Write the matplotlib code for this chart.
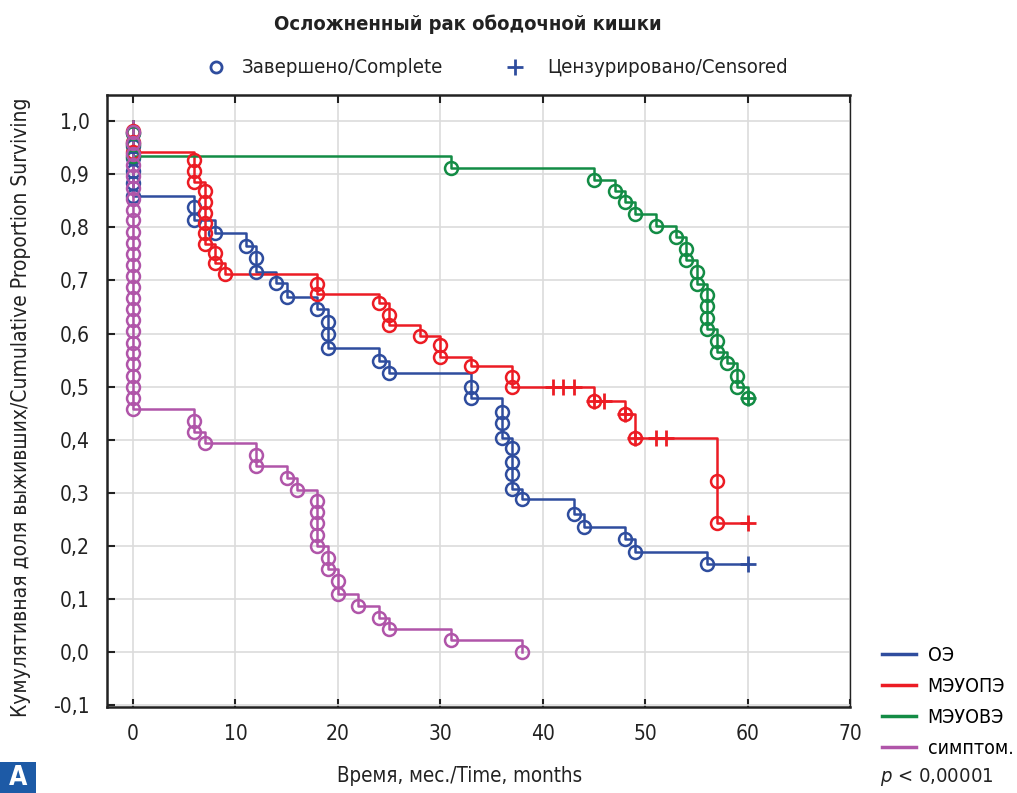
import matplotlib
matplotlib.use("Agg")
import matplotlib.pyplot as plt
from matplotlib import font_manager as fm
from matplotlib.patches import Rectangle
from matplotlib.lines import Line2D

# pick a condensed face if one is installed
narrow = [f for f in fm.fontManager.ttflist
          if 'Narrow' in f.name or 'Condensed' in f.name
          or (f.name == 'DejaVu Sans' and f.stretch == 'condensed')]
if narrow:
    plt.rcParams['font.family'] = [narrow[0].name, 'DejaVu Sans']
    plt.rcParams['font.stretch'] = 'condensed'
    k = 1.0
else:
    plt.rcParams['font.family'] = ['DejaVu Sans']
    k = 0.85

# ОЭ
oe_t = [0, 0, 0, 0, 0, 0, 6, 6, 8, 11, 12, 12, 14, 15, 18, 19, 19, 19, 24, 25,
        33, 33, 36, 36, 36, 37, 37, 37, 37, 38, 43, 44, 48, 49, 56]
oe_s = [0.977, 0.953, 0.930, 0.907, 0.884, 0.860, 0.839, 0.814, 0.790, 0.765,
        0.743, 0.716, 0.695, 0.669, 0.646, 0.621, 0.600, 0.573, 0.548, 0.525,
        0.500, 0.478, 0.453, 0.431, 0.404, 0.384, 0.358, 0.335, 0.308, 0.288,
        0.261, 0.236, 0.213, 0.188, 0.166]
oe_ct = [60]
oe_cs = [0.166]

# МЭУОПЭ
mop_t = [0, 0, 0, 6, 6, 6, 7, 7, 7, 7, 7, 7, 8, 8, 9, 18, 18, 24, 25, 25, 28,
         30, 30, 33, 37, 37, 45, 48, 49, 57, 57]
mop_s = [0.981, 0.961, 0.942, 0.927, 0.906, 0.886, 0.868, 0.847, 0.828, 0.808,
         0.789, 0.768, 0.751, 0.733, 0.712, 0.694, 0.674, 0.657, 0.635, 0.617,
         0.595, 0.578, 0.556, 0.539, 0.518, 0.500, 0.473, 0.448, 0.404, 0.323,
         0.244]
mop_ct = [41, 42, 43, 45, 46, 48, 49, 51, 52, 60]
mop_cs = [0.500, 0.500, 0.500, 0.473, 0.473, 0.448, 0.404, 0.404, 0.404, 0.244]

# МЭУОВЭ
mov_t = [0, 0, 0, 31, 45, 47, 48, 49, 51, 53, 54, 54, 55, 55, 56, 56, 56, 56,
         57, 57, 58, 59, 59, 60]
mov_s = [0.978, 0.957, 0.935, 0.912, 0.889, 0.868, 0.848, 0.825, 0.803, 0.782,
         0.760, 0.738, 0.716, 0.694, 0.672, 0.652, 0.630, 0.608, 0.586, 0.566,
         0.544, 0.520, 0.500, 0.478]
mov_ct = [60]
mov_cs = [0.478]

# симптом.
sym_t = [0] * 26 + [6, 6, 7, 12, 12, 15, 16, 18, 18, 18, 18, 18, 19, 19, 20, 20,
                    22, 24, 25, 31, 38]
sym_s = [0.979, 0.958, 0.938, 0.917, 0.896, 0.875, 0.854, 0.833, 0.813, 0.792,
         0.771, 0.750, 0.729, 0.708, 0.688, 0.667, 0.646, 0.625, 0.604, 0.583,
         0.563, 0.542, 0.521, 0.500, 0.479, 0.458,
         0.436, 0.415, 0.394, 0.371, 0.350, 0.328, 0.306, 0.285, 0.264, 0.243,
         0.221, 0.200, 0.178, 0.157, 0.134, 0.110, 0.087, 0.065, 0.044, 0.022,
         0.0]
sym_ct = []
sym_cs = []

groups = [
    ("ОЭ", oe_t, oe_s, oe_ct, oe_cs, "#2f4d9e"),
    ("МЭУОПЭ", mop_t, mop_s, mop_ct, mop_cs, "#ec1c24"),
    ("МЭУОВЭ", mov_t, mov_s, mov_ct, mov_cs, "#138c45"),
    ("симптом.", sym_t, sym_s, sym_ct, sym_cs, "#b055a9"),
]
txt = '#222222'

fig = plt.figure(figsize=(10.17, 7.93), dpi=100)
ax = fig.add_axes([0.105, 0.108, 0.731, 0.772])

handles = []
for name, t, s, ct, cs, col in groups:
    lt = [0] + t
    ls = [1.0] + s
    if ct and max(ct) > t[-1]:
        lt.append(max(ct))
        ls.append(s[-1])
    ax.step(lt, ls, where='post', color=col, lw=1.8, zorder=3)
    ax.plot(t, s, 'o', ms=9.3, mfc='none', mec=col, mew=1.8, zorder=4)
    if ct:
        ax.plot(ct, cs, '+', ms=12, mec=col, mew=2, zorder=4)
    handles.append(Line2D([], [], color=col, lw=2.5, label=name))

ax.set_xlim(-2.55, 70)
ax.set_ylim(-0.104, 1.049)
ax.set_xticks(range(0, 71, 10))
ax.set_yticks([i / 10 for i in range(-1, 11)])
ax.set_yticklabels([f"{i / 10:.1f}".replace('.', ',') for i in range(-1, 11)])
ax.grid(True, color='#dcdcdc', lw=1.2)
ax.set_axisbelow(True)
ax.tick_params(direction='in', length=6, width=1.5, labelsize=15 * k, pad=12,
               top=True, colors=txt, labelcolor=txt)
ax.tick_params(axis='x', pad=12)
for side in ['left', 'top', 'bottom']:
    ax.spines[side].set_linewidth(1.8)
    ax.spines[side].set_color(txt)
ax.spines['right'].set_linewidth(1.0)
ax.spines['right'].set_color(txt)

ax.set_ylabel("Кумулятивная доля выживших/Cumulative Proportion Surviving",
              fontsize=15 * k, color=txt)
ax.yaxis.set_label_coords(-0.102, 0.49)
fig.text(0.452, 0.014, "Время, мес./Time, months", ha='center', va='baseline',
         fontsize=14.8 * k, color=txt)
fig.text(0.460, 0.962, "Осложненный рак ободочной кишки", ha='center',
         va='baseline', fontsize=14.5 * k, fontweight='bold', color=txt)

# top legend (marker types)
fig.add_artist(Line2D([0.2125], [0.915], transform=fig.transFigure, ls='none',
                      marker='o', ms=8, mfc='none', mec='#2f4d9e', mew=2))
fig.text(0.238, 0.915, "Завершено/Complete", ha='left', va='center',
         fontsize=14.6 * k, color=txt)
fig.add_artist(Line2D([0.506], [0.915], transform=fig.transFigure, ls='none',
                      marker='+', ms=11, mec='#2f4d9e', mew=2))
fig.text(0.538, 0.915, "Цензурировано/Censored", ha='left', va='center',
         fontsize=14.6 * k, color=txt)

fig.legend(handles=handles, loc='lower left', bbox_to_anchor=(0.85, 0.022),
           frameon=False, fontsize=14 * k, handlelength=1.75,
           handletextpad=0.6, labelspacing=0.62)

fig.text(0.865, 0.014, "$p$ < 0,00001", ha='left', va='baseline',
         fontsize=14.5 * k, color=txt)

fig.patches.append(Rectangle((0, 0), 0.035, 0.039, transform=fig.transFigure,
                             facecolor='#1d5aa6', edgecolor='none'))
fig.text(0.0175, 0.019, "A", ha='center', va='center', fontsize=19 * k,
         fontweight='bold', color='white')

fig.savefig("out.png", dpi=100)
